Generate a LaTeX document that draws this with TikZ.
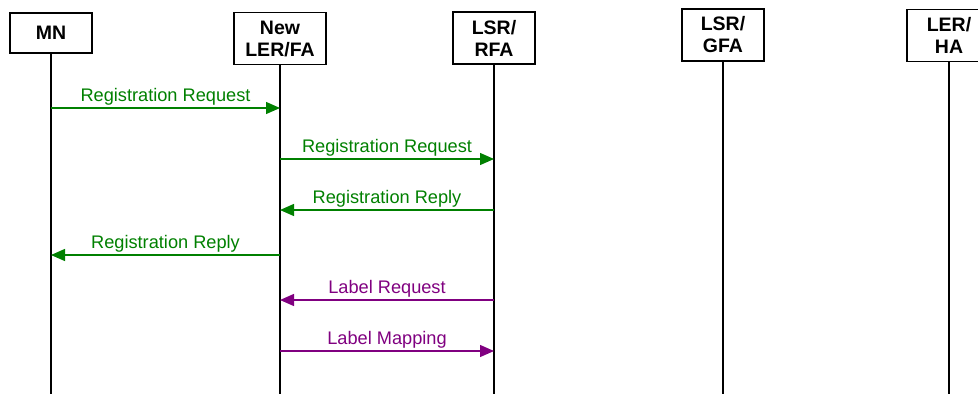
\documentclass[tikz,border=0pt]{standalone}
\usepackage{fontspec}
\setmainfont{Liberation Sans}
\usetikzlibrary{arrows.meta}

\definecolor{reggreen}{RGB}{0,128,0}
\definecolor{lblpurple}{RGB}{128,0,128}

\begin{document}
\begin{tikzpicture}[x=1pt,y=-1pt,>={Triangle[length=14pt,width=12pt]},
  entity/.style={draw,line width=1.4pt,align=center,inner sep=2pt,
  minimum width=82pt,minimum height=52pt,
  font=\fontsize{19.5}{22}\selectfont\bfseries},
  life/.style={line width=1.3pt},
  reg msg/.style={->,line width=1.3pt,reggreen},
  lbl msg/.style={->,line width=1.3pt,lblpurple}]

  \useasboundingbox (0,0) rectangle (978,394);

  \node[entity,minimum height=40pt] (MN) at (51,33) {MN};
  \node[entity,minimum width=92pt] (FA) at (280,38.5) {New\\LER/FA};
  \node[entity] (RFA) at (494,38) {LSR/\\RFA};
  \node[entity] (GFA) at (723,35) {LSR/\\GFA};
  \node[entity,minimum width=84pt] (HA) at (949,35.5) {LER/\\HA};

  \coordinate (bottom) at (0,394);
  \foreach \n in {MN,FA,RFA,GFA,HA}
    \draw[life] (\n.south) -- (\n |- bottom);

  % message rows, top to bottom
  \coordinate (r1) at (0,108);
  \coordinate (r2) at (0,159);
  \coordinate (r3) at (0,210);
  \coordinate (r4) at (0,255);
  \coordinate (r5) at (0,300);
  \coordinate (r6) at (0,351);

  \path[every node/.style={font=\fontsize{18.2}{20}\selectfont,
  		above=2.5pt,inner sep=0pt}]
    (MN |- r1) edge [reg msg] node {Registration Request} (FA |- r1)
    (FA |- r2) edge [reg msg] node {Registration Request} (RFA |- r2)
    (RFA |- r3) edge [reg msg] node {Registration Reply} (FA |- r3)
    (FA |- r4) edge [reg msg] node {Registration Reply} (MN |- r4)
    (RFA |- r5) edge [lbl msg] node {Label Request} (FA |- r5)
    (FA |- r6) edge [lbl msg] node {Label Mapping} (RFA |- r6);
\end{tikzpicture}
\end{document}
